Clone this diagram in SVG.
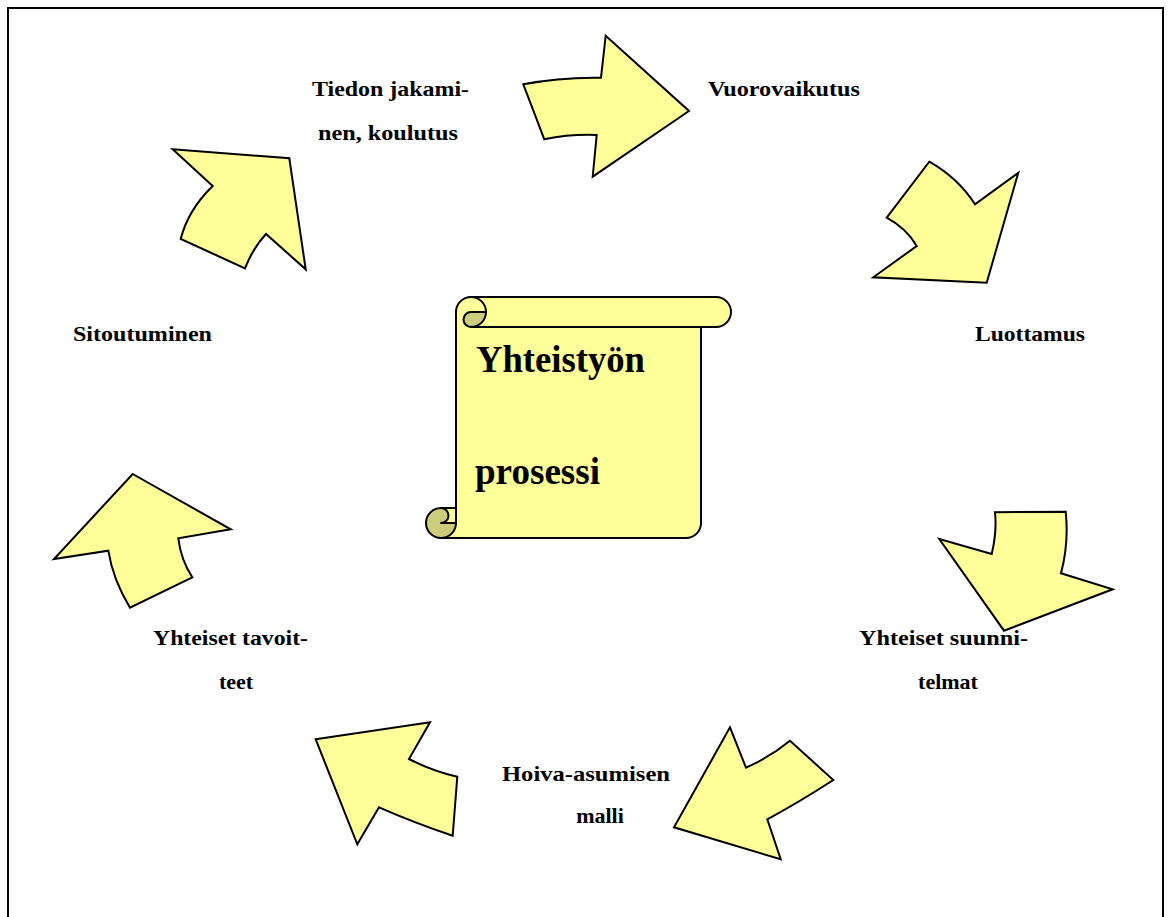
<svg xmlns="http://www.w3.org/2000/svg" width="1170" height="917" viewBox="0 0 1170 917">
<style>
.arrow{fill:#FFFF99;stroke:#000;stroke-width:2;stroke-linejoin:miter}
.lbl{font-family:"Liberation Serif","Times New Roman",serif;font-weight:bold;font-size:22px;fill:#000}
.big{font-family:"Liberation Serif","Times New Roman",serif;font-weight:bold;font-size:37px;fill:#000}
.scroll{fill:#FFFF99;stroke:none}
.dark{fill:#CCCC7A;stroke:none}
.line{fill:none;stroke:#000;stroke-width:2;stroke-linejoin:round}
</style>
<rect x="8" y="8" width="1155" height="920" fill="#fff" stroke="#000" stroke-width="2"/>
<g id="connectors">
<path id="arrow1" class="arrow" d="M172.7,149.3 L289.3,158.3 L305.7,269.3 L266,234 Q253,248 245,268.3 L180.7,239 Q188,210 212.7,186 Z"/>
<path id="arrow2" class="arrow" d="M523.3,84.3 Q560,77 601,77.7 L605.7,35.7 L689,111 L592.7,176.7 L596.7,135 Q570,134 544.3,139.3 Z"/>
<path id="arrow3" class="arrow" d="M929.3,161.7 Q958,178 975,204.3 L1018.3,172.7 L986.7,282.7 L873.3,277.3 L916.7,246 Q906,228 886.7,217.7 Z"/>
<path id="arrow4" class="arrow" d="M995,512.3 L1065.7,511.7 Q1069,543 1061,573.3 L1112.7,589.3 L1004,630.7 L939.3,539 L991.7,554 Q997,532 995,512.3 Z"/>
<path id="arrow5" class="arrow" d="M730,727.3 L746,767.7 Q770,757 790,740.7 L833.3,780 Q800,801.7 767.3,819.3 L780.7,859.3 L674,827.3 Z"/>
<path id="arrow6" class="arrow" d="M315.7,739.3 L430,722.3 L409,759 Q432,771 457.3,776.7 L452.7,835.7 Q415,823 379,807.3 L357.3,844.3 Z"/>
<path id="arrow7" class="arrow" d="M132.7,474 L230.7,529.3 L178.3,538.3 Q181,560 192.3,577.3 L130,607.7 Q113,580 108.3,550.7 L54,559 Z"/>
</g>
<g id="scroll">
<path class="scroll" d="M456,508 L456,312 A15,15 0 0 1 471,297 L716,297 A15,15 0 0 1 716,327 L701,327 L701,523 A15,15 0 0 1 686,538 L441,538 A15,15 0 0 1 441,508 Z"/>
<path class="dark" d="M486,312 A15,15 0 0 1 471,327 A7.5,7.5 0 0 1 471,312 Z"/>
<path class="dark" d="M456,523 A15,15 0 1 1 441,508 A7.5,7.5 0 0 1 441,523 Z"/>
<path class="line" d="M456,508 L456,312 A15,15 0 0 1 471,297 L716,297 A15,15 0 0 1 716,327 L701,327 L701,523 A15,15 0 0 1 686,538 L441,538 A15,15 0 0 1 441,508 Z"/>
<path class="line" d="M471,297 A15,15 0 0 1 471,327 A7.5,7.5 0 0 1 471,312 L486,312"/>
<path class="line" d="M701,327 L471,327"/>
<path class="line" d="M441,508 A7.5,7.5 0 0 1 441,523 L456,523"/>
<path class="line" d="M441,538 A15,15 0 0 0 456,523 L456,508"/>
<text class="big" x="476" y="372" textLength="169" lengthAdjust="spacingAndGlyphs">Yhteistyön</text>
<text class="big" x="475" y="484" textLength="125" lengthAdjust="spacingAndGlyphs">prosessi</text>
</g>
<g id="label-tiedon">
<text class="lbl" x="312" y="96" textLength="157" lengthAdjust="spacingAndGlyphs">Tiedon jakami-</text>
<text class="lbl" x="318" y="140" textLength="140" lengthAdjust="spacingAndGlyphs">nen, koulutus</text>
</g>
<g id="label-vuorovaikutus">
<text class="lbl" x="708" y="96" textLength="152" lengthAdjust="spacingAndGlyphs">Vuorovaikutus</text>
</g>
<g id="label-luottamus">
<text class="lbl" x="975" y="341" textLength="110" lengthAdjust="spacingAndGlyphs">Luottamus</text>
</g>
<g id="label-sitoutuminen">
<text class="lbl" x="73" y="341" textLength="139" lengthAdjust="spacingAndGlyphs">Sitoutuminen</text>
</g>
<g id="label-tavoitteet">
<text class="lbl" x="153" y="645" textLength="155" lengthAdjust="spacingAndGlyphs">Yhteiset tavoit-</text>
<text class="lbl" x="236" y="689" text-anchor="middle">teet</text>
</g>
<g id="label-suunnitelmat">
<text class="lbl" x="859" y="645" textLength="169" lengthAdjust="spacingAndGlyphs">Yhteiset suunni-</text>
<text class="lbl" x="948" y="689" text-anchor="middle">telmat</text>
</g>
<g id="label-hoiva">
<text class="lbl" x="502" y="781" textLength="168" lengthAdjust="spacingAndGlyphs">Hoiva-asumisen</text>
<text class="lbl" x="600" y="823" text-anchor="middle">malli</text>
</g>
</svg>
